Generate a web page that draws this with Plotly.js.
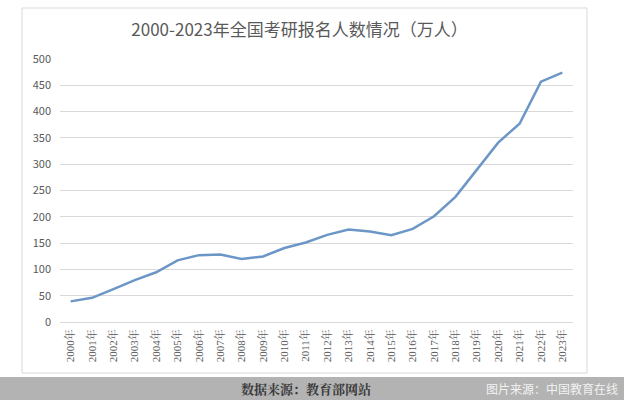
<!DOCTYPE html>
<html><head><meta charset="utf-8">
<script src="https://cdn.plot.ly/plotly-3.0.1.min.js"></script>
<style>html,body{margin:0;padding:0;background:#fff;}#c{width:624px;height:400px;}</style>
</head><body><div id="c"></div>
<script>
const years = ["2000年","2001年","2002年","2003年","2004年","2005年","2006年","2007年","2008年","2009年","2010年","2011年","2012年","2013年","2014年","2015年","2016年","2017年","2018年","2019年","2020年","2021年","2022年","2023年"];
const applicants = [39.2,46,62.4,79.7,94.5,117.2,127.1,128.2,120,124.6,140.6,151.1,165.6,176,172,164.9,177,201,238,290,341,377,457,474];
const yTicks = [0,50,100,150,200,250,300,350,400,450,500];

const font = '"Noto Sans CJK SC", "Noto Sans", sans-serif';
const serif = '"Liberation Serif", "Noto Serif CJK SC", "Noto Sans CJK SC", serif';
Plotly.newPlot('c', [{
  x: years, y: applicants, type: 'scatter', mode: 'lines',
  line: {color: '#6b96c6', width: 2.5},
  hoverinfo: 'skip'
}], {
  width: 624, height: 400,
  margin: {l: 60, r: 51, t: 59, b: 78},
  paper_bgcolor: '#ffffff', plot_bgcolor: '#ffffff',
  showlegend: false,
  title: {text: '2000-2023年全国考研报名人数情况（万人）', x: 0.48, xanchor: 'center', y: 0.925, yanchor: 'middle',
    font: {family: font, size: 17, color: '#595959'}},
  xaxis: {type: 'category', range: [-0.5, 23.5], tickangle: -90, showgrid: false, zeroline: false,
    showline: false, ticks: '', tickfont: {family: serif, size: 11, color: '#595959'}, ticklabelstandoff: 4},
  yaxis: {range: [0, 500], tickvals: yTicks, showgrid: true, gridcolor: '#d9d9d9', gridwidth: 1,
    zeroline: true, zerolinecolor: '#d9d9d9', showline: false, ticks: '',
    tickfont: {family: font, size: 11, color: '#595959'}, ticklabelstandoff: 8},
  shapes: [
    {type: 'rect', xref: 'paper', yref: 'paper', x0: -0.0741, x1: 1.0273, y0: -0.1939, y1: 1.1939,
      line: {color: '#d9d9d9', width: 1}, fillcolor: 'rgba(0,0,0,0)', layer: 'below'},
    {type: 'rect', xref: 'paper', yref: 'paper', x0: -0.2, x1: 1.2, y0: -0.32, y1: -0.209,
      line: {width: 0}, fillcolor: '#b3b3b3', layer: 'above'}
  ],
  annotations: [
    {text: '<b>数据来源：教育部网站</b>', xref: 'paper', yref: 'paper', x: 0.4795, y: -0.251, xanchor: 'center', yanchor: 'middle',
      showarrow: false, font: {family: '"Noto Serif CJK SC", "Noto Sans CJK SC", serif', size: 13, color: '#3a3a3a'}},
    {text: '图片来源：中国教育在线', xref: 'paper', yref: 'paper', x: 1.0916, y: -0.251, xanchor: 'right', yanchor: 'middle',
      showarrow: false, font: {family: font, size: 12, color: '#f2f2f2'}}
  ]
}, {staticPlot: true});
</script></body></html>
